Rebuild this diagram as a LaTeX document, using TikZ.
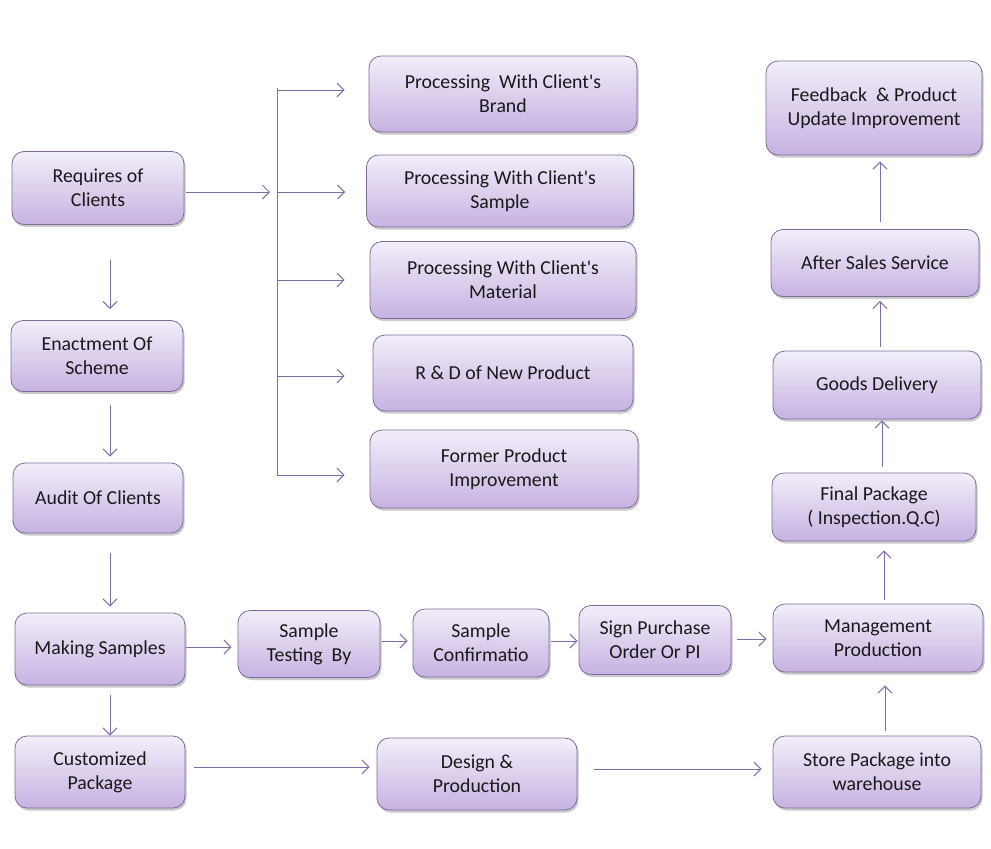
\documentclass[tikz,border=0pt]{standalone}
\usepackage{fontspec}
\setmainfont{Carlito}
\usetikzlibrary{arrows.meta,shadows,calc}
\definecolor{linec}{RGB}{130,108,168}
\definecolor{bordc}{RGB}{128,108,155}
\definecolor{topc}{RGB}{242,238,249}
\definecolor{botc}{RGB}{198,178,226}
\tikzset{
  box/.style={rounded corners=12pt, draw=bordc, line width=0.8pt,
    top color=topc, bottom color=botc,
    drop shadow={shadow xshift=1.5pt, shadow yshift=-2.5pt, opacity=0.35, fill=black!60},
    align=center, inner sep=2pt, text=black!90, font=\fontsize{19.8}{24}\selectfont},
  conn/.style={draw=linec, line width=1pt, -{Straight Barb[length=7pt,width=14pt]}},
  plain/.style={draw=linec, line width=1pt}
}
\begin{document}
\begin{tikzpicture}[x=1pt,y=-1pt]
\useasboundingbox (0,0) rectangle (991,849);
% left column
\node[box, minimum width=172pt, minimum height=73pt] (req) at (98,188) {Requires of\\Clients};
\node[box, minimum width=172pt, minimum height=71pt] (enact) at (97,356) {Enactment Of\\Scheme};
\node[box, minimum width=170pt, minimum height=70pt] (audit) at (98,498) {Audit Of Clients};
\node[box, minimum width=170pt, minimum height=72pt] (making) at (100,649) {Making Samples};
\node[box, minimum width=170pt, minimum height=72pt] (custom) at (100,772) {Customized\\Package};
% middle row
\node[box, minimum width=142pt, minimum height=67pt] (testing) at (309,644) {Sample\\Testing\ \ By};
\node[box, minimum width=136pt, minimum height=68pt] (confirm) at (481,643) {Sample\\Confirmatio};
\node[box, minimum width=152pt, minimum height=69pt] (sign) at (655,640) {Sign Purchase\\Order Or PI};
\node[box, minimum width=200pt, minimum height=72pt] (design) at (477,774) {Design \&\\Production};
% right column
\node[box, minimum width=210pt, minimum height=68pt] (mgmt) at (878,638) {Management\\Production};
\node[box, minimum width=208pt, minimum height=72pt] (store) at (877,772) {Store Package into\\warehouse};
\node[box, minimum width=204pt, minimum height=68pt] (final) at (874,507) {Final Package\\( Inspection.Q.C)};
\node[box, minimum width=208pt, minimum height=68pt] (goods) at (877,385) {Goods Delivery};
\node[box, minimum width=208pt, minimum height=67pt] (after) at (875,263) {After Sales Service};
\node[box, minimum width=216pt, minimum height=94pt] (feed) at (874,108) {Feedback\ \ \& Product\\Update Improvement};
% processing column
\node[box, minimum width=268pt, minimum height=76pt] (p1) at (503,94) {Processing\ \ With Client\textquotesingle s\\Brand};
\node[box, minimum width=267pt, minimum height=72pt] (p2) at (500,191) {Processing With Client\textquotesingle s\\Sample};
\node[box, minimum width=266pt, minimum height=77pt] (p3) at (503,280) {Processing With Client\textquotesingle s\\Material};
\node[box, minimum width=260pt, minimum height=76pt] (p4) at (503,373) {R \& D of New Product};
\node[box, minimum width=268pt, minimum height=78pt] (p5) at (504,469) {Former Product\\Improvement};
% bracket
\coordinate (btop) at (277,88);
\coordinate (bbot) at (277,476);
\coordinate (b1) at (277,90);
\coordinate (b2) at (277,192);
\coordinate (b3) at (277,280);
\coordinate (b4) at (277,376);
\coordinate (b5) at (277,475);
\draw[plain] (btop) -- (bbot);
\draw[conn, shorten <=2pt, shorten >=7pt] (req.east |- b2) -- (b2);
\draw[conn, shorten >=24pt] (b1) -- (b1 -| p1.west);
\draw[conn, shorten >=21pt] (b2) -- (b2 -| p2.west);
\draw[conn, shorten >=25pt] (b3) -- (b3 -| p3.west);
\draw[conn, shorten >=28pt] (b4) -- (b4 -| p4.west);
\draw[conn, shorten >=25pt] (b5) -- (b5 -| p5.west);
% left column arrows
\coordinate (lx) at (110,0);
\draw[conn, shorten <=35pt, shorten >=11pt] (req.south -| lx) -- (enact.north -| lx);
\draw[conn, shorten <=13pt, shorten >=6pt] (enact.south -| lx) -- (audit.north -| lx);
\draw[conn, shorten <=20pt, shorten >=6pt] (audit.south -| lx) -- (making.north -| lx);
\draw[conn, shorten <=10pt, shorten >=0pt] (making.south -| lx) -- (custom.north -| lx);
% middle row arrows
\draw[conn, shorten <=1pt, shorten >=6pt] (making.east |- testing) ++(0,3) coordinate (m1) (m1) -- (m1 -| testing.west);
\draw[conn, shorten <=2pt, shorten >=5pt] ([yshift=3pt]testing.east) -- ([yshift=3pt]testing.east -| confirm.west);
\draw[conn, shorten <=2pt, shorten >=1pt] ([yshift=2pt]confirm.east) -- ([yshift=2pt]confirm.east -| sign.west);
\draw[conn, shorten <=6pt, shorten >=6pt] ([yshift=1pt]sign.east) -- ([yshift=1pt]sign.east -| mgmt.west);
\draw[conn, shorten <=9pt, shorten >=7pt] ([yshift=5pt]custom.east) -- ([yshift=5pt]custom.east -| design.west);
\draw[conn, shorten <=17pt, shorten >=11pt] ([yshift=5pt]design.east) -- ([yshift=5pt]design.east -| store.west);
% right column arrows
\draw[conn, shorten <=5pt, shorten >=13pt] ([xshift=8pt]store.north) -- ([xshift=8pt]store.north |- mgmt.south);
\draw[conn, shorten <=4pt, shorten >=9pt] ([xshift=6pt]mgmt.north) -- ([xshift=6pt]mgmt.north |- final.south);
\draw[conn, shorten <=6pt, shorten >=1pt] ([xshift=8pt]final.north) -- ([xshift=8pt]final.north |- goods.south);
\draw[conn, shorten <=4pt, shorten >=4pt] ([xshift=3pt]goods.north) -- ([xshift=3pt]goods.north |- after.south);
\draw[conn, shorten <=7pt, shorten >=6pt] ([xshift=5pt]after.north) -- ([xshift=5pt]after.north |- feed.south);
\end{tikzpicture}
\end{document}
